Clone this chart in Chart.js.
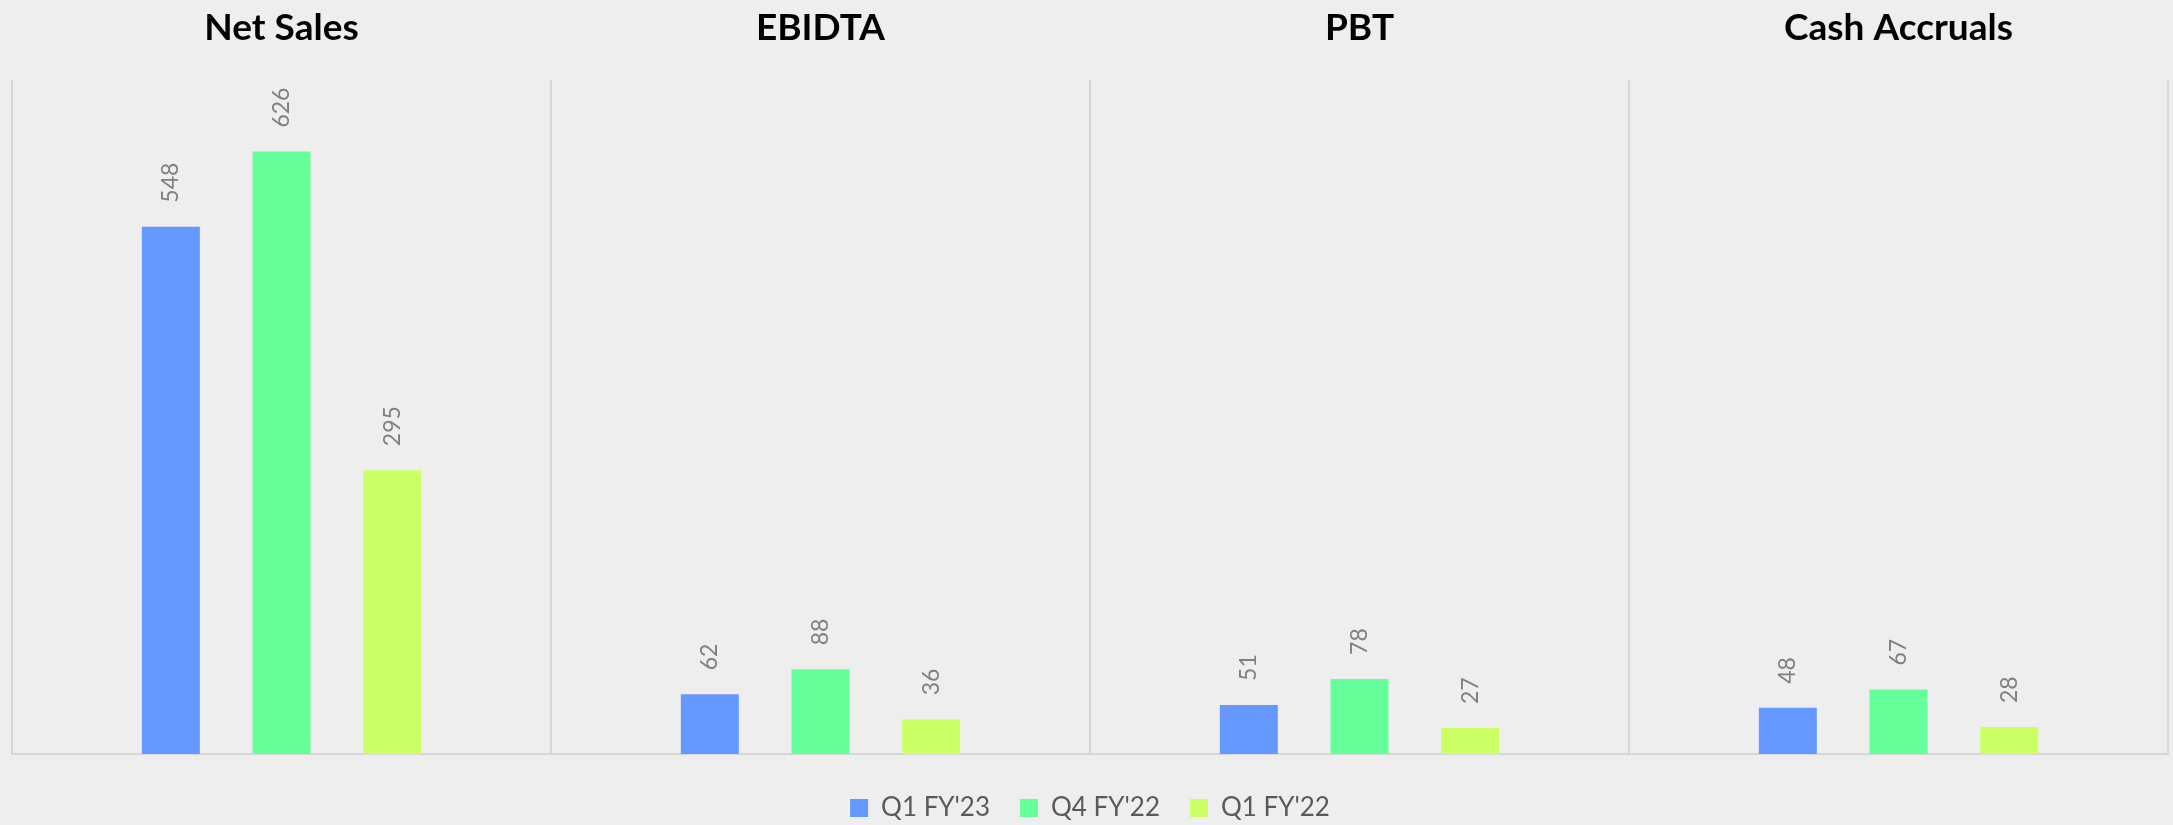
<!DOCTYPE html>
<html>
<head>
<meta charset="utf-8">
<script src="https://cdn.jsdelivr.net/npm/chart.js@4"></script>
<style>
    html, body { margin: 0; padding: 0; background: #eeeeee; }
    #wrap { width: 2173px; height: 825px; }
</style>
</head>
<body>
<div id="wrap"><canvas id="results" width="2173" height="825"></canvas></div>
<script>
var categories = ['Net Sales', 'EBIDTA', 'PBT', 'Cash Accruals'];
var seriesNames = ["Q1 FY'23", "Q4 FY'22", "Q1 FY'22"];
var q1fy23 = [548, 62, 51, 48];
var q4fy22 = [626, 88, 78, 67];
var q1fy22 = [295, 36, 27, 28];
var colors = ['#6699ff', '#66ff99', '#ccff66'];

// rotated value labels above each bar
var barLabels = {
    id: 'barLabels',
    afterDatasetsDraw(chart) {
        var ctx = chart.ctx;
        ctx.save();
        ctx.font = '23px Lato';
        ctx.fillStyle = '#808080';
        ctx.textAlign = 'left';
        ctx.textBaseline = 'middle';
        chart.data.datasets.forEach(function (ds, i) {
            chart.getDatasetMeta(i).data.forEach(function (bar, j) {
                ctx.save();
                ctx.translate(bar.x, bar.y - 24);
                ctx.rotate(-Math.PI / 2);
                ctx.fillText(String(ds.data[j]), 0, 0);
                ctx.restore();
            });
        });
        ctx.restore();
    }
};

var datasets = [q1fy23, q4fy22, q1fy22].map(function (values, i) {
    return {
        label: seriesNames[i],
        data: values,
        backgroundColor: colors[i],
        borderWidth: 0,
        categoryPercentage: 0.616,
        barPercentage: 0.524,
        xAxisID: 'x'
    };
});

new Chart(document.getElementById('results'), {
    type: 'bar',
    data: { labels: categories, datasets: datasets },
    options: {
        responsive: false,
        animation: false,
        layout: { padding: { left: 12, right: 5, top: -24, bottom: -6 } },
        plugins: {
            tooltip: { enabled: false },
            legend: {
                position: 'bottom',
                labels: {
                    boxWidth: 18,
                    boxHeight: 18,
                    padding: 30,
                    color: '#595959',
                    font: { family: 'Lato', size: 26 }
                }
            }
        },
        scales: {
            x: {
                position: 'top',
                offset: true,
                grid: { offset: true, color: '#d6d6d6', lineWidth: 2, drawTicks: false },
                border: { display: false },
                ticks: {
                    padding: 30,
                    color: '#000000',
                    font: { family: 'Lato', size: 37, weight: 'bold' }
                }
            },
            x2: {
                position: 'bottom',
                grid: { display: false },
                border: { display: true, color: '#d6d6d6', width: 2 },
                ticks: { display: false },
                afterFit: function (axis) { axis.height = 11; }
            },
            y: {
                display: false,
                min: 0,
                max: 700
            }
        }
    },
    plugins: [barLabels]
});
</script>
</body>
</html>
